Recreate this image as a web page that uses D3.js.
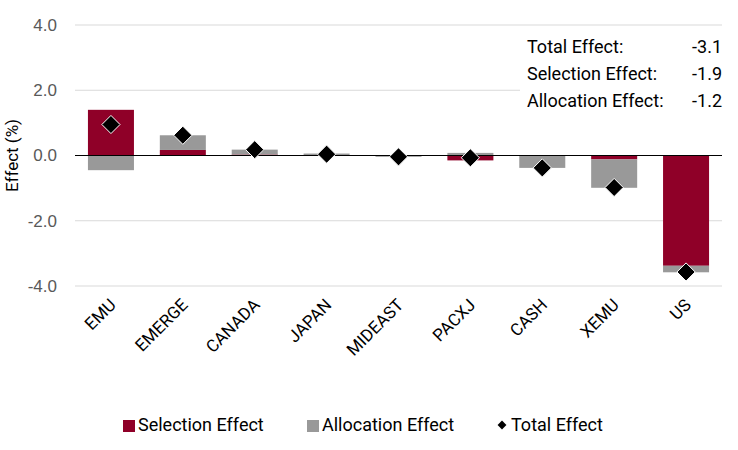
<!DOCTYPE html>
<html>
<head>
<meta charset="utf-8">
<script src="https://cdn.jsdelivr.net/npm/d3@7"></script>
<style>
  body { margin: 0; background: #fff; }
  svg { font-family: Roboto, "Noto Sans", sans-serif; }
</style>
</head>
<body>
<svg width="738" height="450"></svg>
<script>
// values
var categories = ["EMU", "EMERGE", "CANADA", "JAPAN", "MIDEAST", "PACXJ", "CASH", "XEMU", "US"];
var selection = [1.40, 0.17, 0.03, 0.01, -0.01, -0.15, -0.01, -0.12, -3.38];
var allocation = [-0.45, 0.45, 0.15, 0.05, -0.03, 0.08, -0.37, -0.87, -0.20];
var total = [0.95, 0.62, 0.18, 0.04, -0.04, -0.07, -0.38, -0.98, -3.57];
var yTicks = [-4, -2, 0, 2, 4];
var summaryLabels = ["Total Effect:", "Selection Effect:", "Allocation Effect:"];
var summaryValues = ["-3.1", "-1.9", "-1.2"];

var red = "#8f0028", grey = "#999999";

var svg = d3.select("svg");
var margin = { top: 25, left: 75, right: 16, bottom: 164 };
var width = 738 - margin.left - margin.right;
var height = 450 - margin.top - margin.bottom;

var g = svg.append("g")
	.attr("transform", "translate(" + margin.left + "," + margin.top + ")");

var x = d3.scaleBand().domain(categories).range([0, width]).paddingInner(0.36).paddingOuter(0.18);
var y = d3.scaleLinear().domain([-4, 4]).range([height, 0]);

// grid
g.selectAll(".grid")
	.data(yTicks)
	.enter().append("line")
	.attr("x1", 0).attr("x2", width)
	.attr("y1", function (d) { return y(d); })
	.attr("y2", function (d) { return y(d); })
	.attr("stroke", "#d9d9d9")
	.attr("stroke-width", 1);

// y axis labels
var yAxis = g.append("g")
	.call(d3.axisLeft(y).tickValues(yTicks).tickFormat(d3.format(".1f")).tickSize(0).tickPadding(18));
yAxis.select(".domain").remove();
yAxis.selectAll("text")
	.attr("fill", "#595959")
	.style("font-size", "17px")
	.text(function (d) { return d3.format(".1f")(d).replace("−", "-"); });

g.append("text")
	.attr("transform", "translate(-57," + (height / 2) + ") rotate(-90)")
	.attr("text-anchor", "middle")
	.attr("fill", "#000")
	.style("font-size", "17px")
	.text("Effect (%)");

// stacked bars: positives up from 0, negatives down from 0
var rows = categories.map(function (c, i) {
	var s = selection[i], a = allocation[i];
	var pos = 0, neg = 0, out = [];
	[[s, red], [a, grey]].forEach(function (p) {
		var v = p[0];
		if (v >= 0) { out.push({ c: c, y0: pos, y1: pos + v, color: p[1] }); pos += v; }
		else { out.push({ c: c, y0: neg + v, y1: neg, color: p[1] }); neg += v; }
	});
	return out;
});

g.selectAll(".bar")
	.data(d3.merge(rows))
	.enter().append("rect")
	.attr("x", function (d) { return x(d.c); })
	.attr("width", x.bandwidth())
	.attr("y", function (d) { return y(d.y1); })
	.attr("height", function (d) { return y(d.y0) - y(d.y1); })
	.attr("fill", function (d) { return d.color; });

// zero line
g.append("line")
	.attr("x1", 0).attr("x2", width)
	.attr("y1", y(0)).attr("y2", y(0))
	.attr("stroke", "#000").attr("stroke-width", 1.2);

// total diamonds
var diamond = d3.symbol().type(d3.symbolDiamond2).size(210);
g.selectAll(".tot")
	.data(total)
	.enter().append("path")
	.attr("d", diamond)
	.attr("transform", function (d, i) {
		return "translate(" + (x(categories[i]) + x.bandwidth() / 2) + "," + y(d) + ")";
	})
	.attr("fill", "#000")
	.attr("stroke", "#fff")
	.attr("stroke-width", 1);

// x labels
g.selectAll(".xl")
	.data(categories)
	.enter().append("text")
	.attr("transform", function (d) {
		return "translate(" + (x(d) + x.bandwidth() / 2 + 6) + "," + (height + 20) + ") rotate(-45)";
	})
	.attr("text-anchor", "end")
	.attr("fill", "#000")
	.style("font-size", "17px")
	.text(function (d) { return d; });

// summary box
var box = svg.append("g");
box.append("rect")
	.attr("x", 520).attr("y", 32).attr("width", 210).attr("height", 84)
	.attr("fill", "#fff");
summaryLabels.forEach(function (t, i) {
	box.append("text").attr("x", 527).attr("y", 53 + i * 27)
		.style("font-size", "18px").attr("fill", "#000").text(t);
	box.append("text").attr("x", 722).attr("y", 53 + i * 27)
		.attr("text-anchor", "end")
		.style("font-size", "18px").attr("fill", "#000").text(summaryValues[i]);
});

// legend
var legend = svg.append("g");
legend.append("rect").attr("x", 123).attr("y", 420).attr("width", 12).attr("height", 12).attr("fill", red);
legend.append("text").attr("x", 138).attr("y", 431).style("font-size", "18px").text("Selection Effect");
legend.append("rect").attr("x", 307).attr("y", 420).attr("width", 12).attr("height", 12).attr("fill", grey);
legend.append("text").attr("x", 322).attr("y", 431).style("font-size", "18px").text("Allocation Effect");
legend.append("path").attr("d", d3.symbol().type(d3.symbolDiamond2).size(50))
	.attr("transform", "translate(502,425)").attr("fill", "#000");
legend.append("text").attr("x", 511).attr("y", 431).style("font-size", "18px").text("Total Effect");
</script>
</body>
</html>
